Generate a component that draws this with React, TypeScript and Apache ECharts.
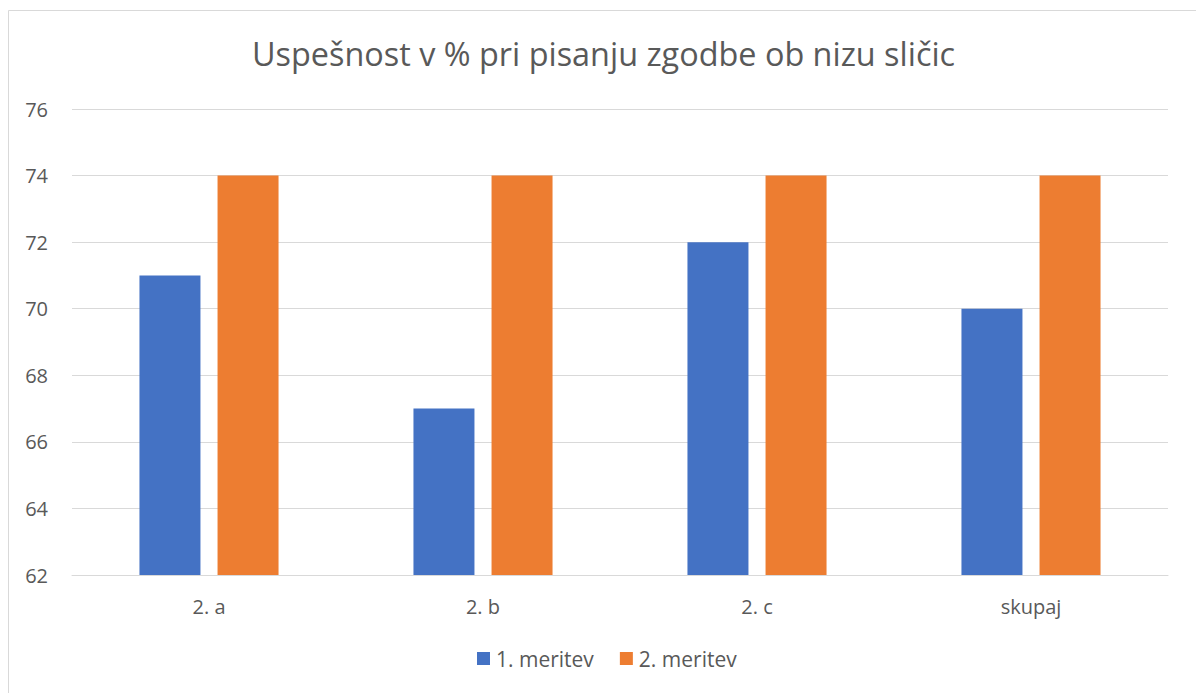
import React, { useEffect, useRef } from "react";
import * as echarts from "echarts";

const categories = ["2. a", "2. b", "2. c", "skupaj"];
const seriesNames = ["1. meritev", "2. meritev"];
const meritev1 = [71, 67, 72, 70];
const meritev2 = [74, 74, 74, 74];
const titleText = "Uspešnost v % pri pisanju zgodbe ob nizu sličic";

export default function App() {
  const ref = useRef<HTMLDivElement>(null);
  useEffect(() => {
    if (!ref.current) return;
    const chart = echarts.init(ref.current, undefined, { renderer: "svg" });
    const font = "'Open Sans', 'Noto Sans', sans-serif";
    chart.setOption({
      animation: false,
      backgroundColor: "#ffffff",
      textStyle: { fontFamily: font },
      title: {
        text: titleText,
        left: 247,
        top: 32,
        textStyle: { fontSize: 32.4, fontWeight: "normal", color: "#595959", fontFamily: font },
      },
      legend: {
        data: seriesNames,
        bottom: 24,
        left: 477,
        padding: 0,
        itemWidth: 13,
        itemHeight: 13,
        itemGap: 26,
        icon: "rect",
        textStyle: { fontSize: 21, color: "#595959", fontFamily: font, padding: [0, 0, 0, 1] },
      },
      grid: { left: 72, right: 28, top: 109, bottom: 118, containLabel: false },
      xAxis: {
        type: "category",
        data: categories,
        axisLine: { lineStyle: { color: "#d9d9d9" } },
        axisTick: { show: false },
        axisLabel: { fontSize: 20, color: "#595959", margin: 21, fontFamily: font },
      },
      yAxis: {
        type: "value",
        min: 62,
        max: 76,
        interval: 2,
        axisLine: { show: false },
        axisTick: { show: false },
        splitLine: { lineStyle: { color: "#d9d9d9", width: 1 } },
        axisLabel: { fontSize: 20, color: "#595959", margin: 24, fontFamily: font },
      },
      graphic: [
        {
          type: "polyline",
          shape: { points: [[8.5, 700], [8.5, 10.5], [1200, 10.5]] },
          style: { stroke: "#d9d9d9", lineWidth: 1, fill: null },
          silent: true,
        },
      ],
      series: [
        {
          name: seriesNames[0],
          type: "bar",
          data: meritev1,
          barWidth: 61,
          barGap: "28%",
          itemStyle: { color: "#4472C4" },
        },
        {
          name: seriesNames[1],
          type: "bar",
          data: meritev2,
          barWidth: 61,
          barGap: "28%",
          itemStyle: { color: "#ED7D31" },
        },
      ],
    });
    return () => chart.dispose();
  }, []);
  return (
    <div
      ref={ref}
      style={{ position: "fixed", left: 0, top: 0, width: 1196, height: 693 }}
    />
  );
}
